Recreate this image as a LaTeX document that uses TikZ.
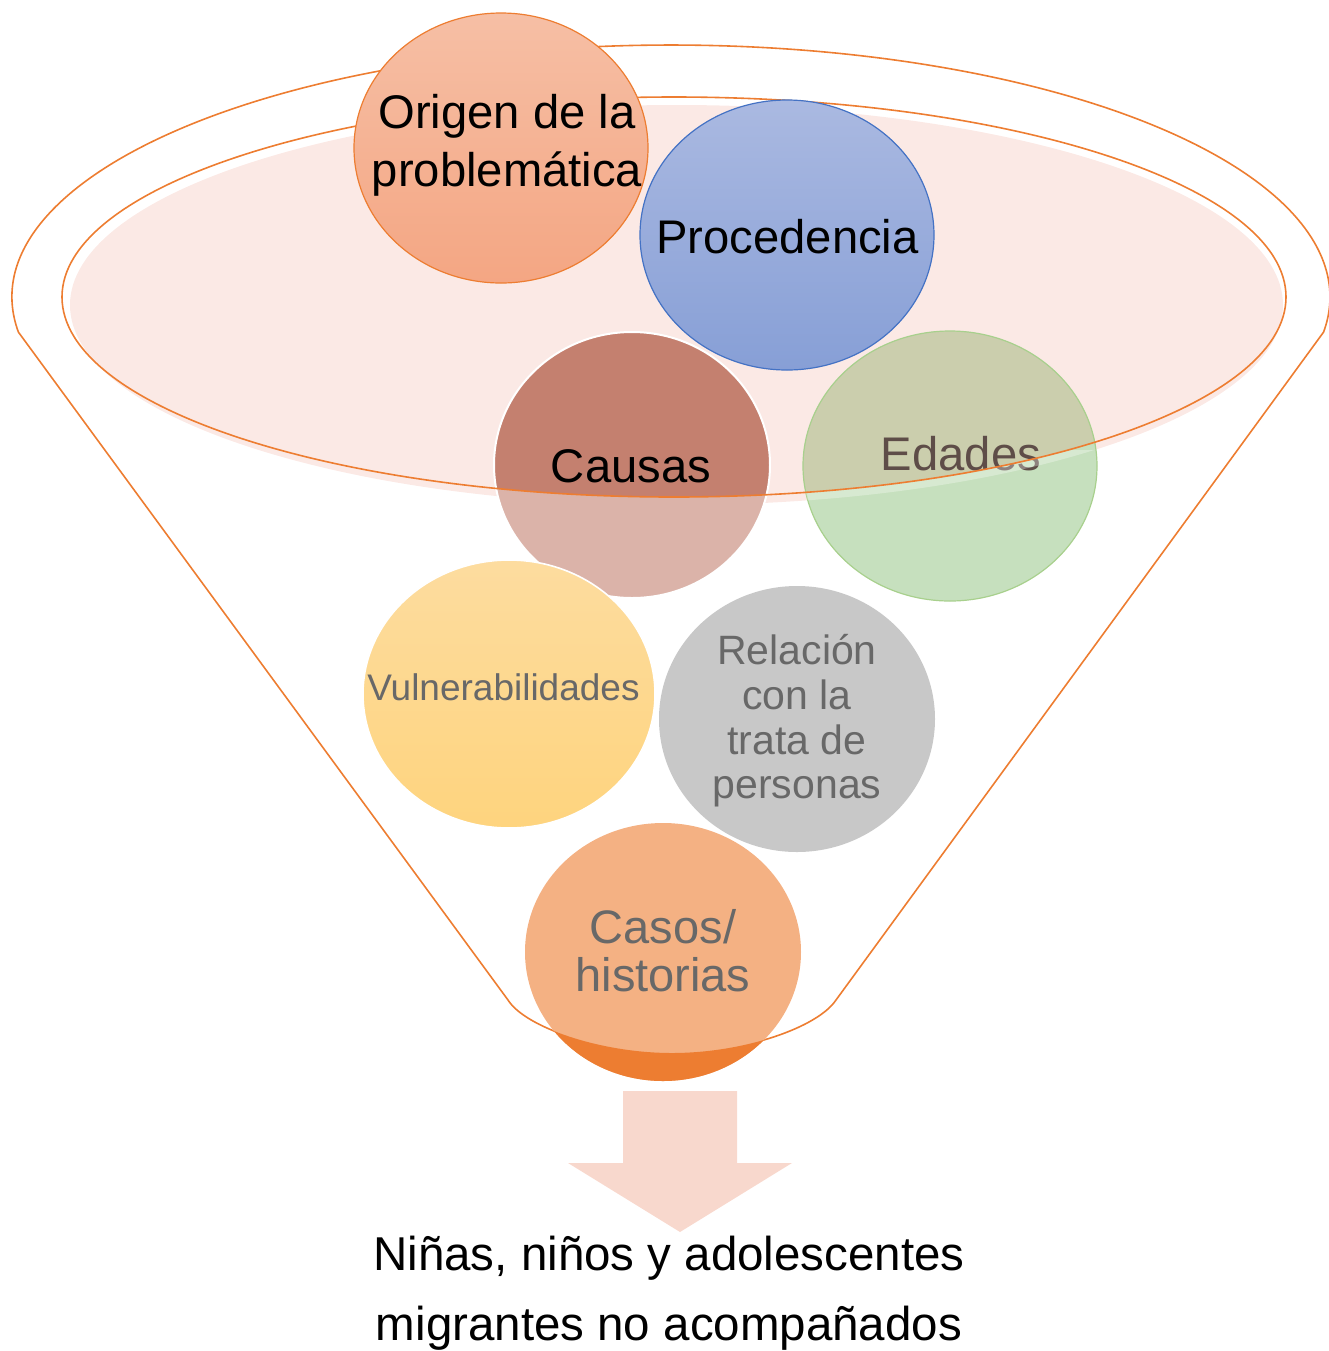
\documentclass[tikz,border=0pt]{standalone}
\usepackage{fontspec}
\setmainfont{Liberation Sans}
\newcommand\fsz[2]{\fontsize{#1}{#2}\selectfont}
\definecolor{orl}{HTML}{ED7D31}
\definecolor{pinkf}{HTML}{FBE9E5}
\definecolor{origtop}{HTML}{F6BFA5}
\definecolor{origbot}{HTML}{F4A683}
\definecolor{proctop}{HTML}{AAB9E1}
\definecolor{procbot}{HTML}{879FD6}
\definecolor{procline}{HTML}{4472C4}
\definecolor{causlow}{HTML}{DBB3A9}
\definecolor{caushi}{HTML}{C4806F}
\definecolor{edlow}{HTML}{C6E0BE}
\definecolor{edhi}{HTML}{CBCEAD}
\definecolor{edline}{HTML}{A8D08D}
\definecolor{vultop}{HTML}{FDDC9F}
\definecolor{vulbot}{HTML}{FED47E}
\definecolor{relf}{HTML}{C8C8C8}
\definecolor{casf}{HTML}{F4B183}
\definecolor{arrowf}{HTML}{F8D8CD}
\definecolor{greytxt}{HTML}{686868}
\definecolor{edtxt}{HTML}{5E4D48}
\begin{document}
\begin{tikzpicture}[x=0.5pt,y=-0.5pt,
  funnel/.style={draw=orl, line width=0.8pt},
  big/.style={inner sep=0pt, align=center, font=\fsz{23.6}{29}},
  rel/.style={inner sep=0pt, align=center, font=\fsz{20.5}{22.3}, text=greytxt},
  cas/.style={inner sep=0pt, align=center, font=\fsz{23.5}{24}, text=greytxt},
  vul/.style={inner sep=0pt, font=\fsz{18.5}{20}, text=greytxt},
  bottomtxt/.style={inner sep=0pt, align=center, font=\fsz{23.75}{35}}]
\useasboundingbox (0,0) rectangle (1329,1351);

% outer funnel outline
\draw[funnel] (18.4,332.1) arc[start angle=172,end angle=368,x radius=659,y radius=252]
  -- (836,1000) .. controls (818,1027) and (745,1053) .. (672,1053)
  .. controls (600,1053) and (525,1027) .. (508,1000) -- cycle;

% pink mouth of the funnel
\fill[pinkf] (676.5,305) ellipse[x radius=606.5, y radius=200];

% Causas and Edades (under the mouth line)
\fill[causlow] (632,465) ellipse[x radius=138, y radius=133];
\fill[edlow] (950,466) ellipse[x radius=147, y radius=135];
\begin{scope}
  \clip (674,297) ellipse[x radius=612, y radius=200];
  \fill[caushi] (632,465) ellipse[x radius=138, y radius=133];
  \fill[edhi] (950,466) ellipse[x radius=147, y radius=135];
\end{scope}
\draw[white, line width=1pt] (632,465) ellipse[x radius=138, y radius=133];
\draw[edline, line width=0.6pt] (950,466) ellipse[x radius=147, y radius=135];
\node[big, anchor=base] (causas) at (631,482) {Causas};
\node[big, anchor=base, text=edtxt] (edades) at (961,470) {Edades};
\begin{scope}[even odd rule]
  \clip (950,466) ellipse[x radius=147, y radius=135];
  \clip (676.5,305) ellipse[x radius=606.5, y radius=200];
  \clip (674,297) ellipse[x radius=700, y radius=300]
     (674,297) ellipse[x radius=612, y radius=200];
  \fill[white, opacity=0.3] (800,450) rectangle (1100,610);
\end{scope}

% mouth line
\draw[funnel] (674,297) ellipse[x radius=612, y radius=200];

% Origen
\shade[top color=origtop, bottom color=origbot] (501,148) ellipse[x radius=147, y radius=135];
\draw[orl, line width=0.6pt] (501,148) ellipse[x radius=147, y radius=135];
\node[big] (origen) at (507,145) {Origen de la\\problemática};

% Procedencia
\shade[top color=proctop, bottom color=procbot] (787,235) ellipse[x radius=147, y radius=135];
\draw[procline, line width=0.6pt] (787,235) ellipse[x radius=147, y radius=135];
\node[big, anchor=base] (proc) at (787.5,253) {Procedencia};

% Vulnerabilidades
\shade[top color=vultop, bottom color=vulbot] (509,694) ellipse[x radius=146, y radius=134];
\draw[white, line width=0.8pt] (509,694) ellipse[x radius=146, y radius=134];
\node[vul, anchor=base] (vul) at (503.5,700) {Vulnerabilidades};

% Relacion
\fill[relf] (797,719) ellipse[x radius=138, y radius=133];
\node[rel] (relacion) at (797,721) {Relación\\con la\\trata de\\personas};

% Casos
\fill[casf] (663,952) ellipse[x radius=138, y radius=129];
\begin{scope}
  \clip (836,1000) .. controls (818,1027) and (745,1053) .. (672,1053)
  .. controls (600,1053) and (525,1027) .. (508,1000) -- (508,1100) -- (836,1100) -- cycle;
  \fill[orl] (663,952) ellipse[x radius=138, y radius=129];
\end{scope}
\node[cas] (casos) at (663,951) {Casos/\\historias};

% arrow
\fill[arrowf] (623,1091) -- (737,1091) -- (737,1163) -- (792,1163) -- (680,1232)
  -- (568,1163) -- (623,1163) -- cycle;

\node[bottomtxt] (result) at (669,1293) {Niñas, niños y adolescentes\\migrantes no acompañados};
\end{tikzpicture}
\end{document}
